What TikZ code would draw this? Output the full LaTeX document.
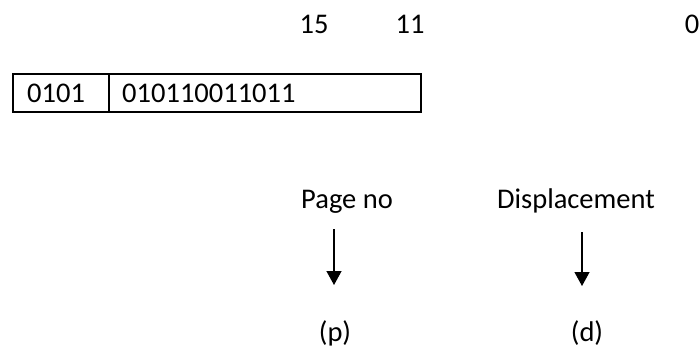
\documentclass[tikz,border=0pt]{standalone}
\usepackage{fontspec}
\setmainfont{Carlito}
\usetikzlibrary{arrows.meta}
\tikzset{
  lbl/.style={inner sep=0pt, anchor=base, font=\fontsize{28.5}{34}\selectfont},
  cell/.style={draw, line width=1.6pt, inner sep=0pt, anchor=north west},
  arr/.style={line width=1.3pt, -{Triangle[width=15pt,length=14pt]}}
}
\begin{document}
\begin{tikzpicture}[x=1pt,y=-1pt]
\useasboundingbox (0,0) rectangle (700,349);
% bit positions
\node[lbl] (b15) at (314,33) {15};
\node[lbl] (b11) at (410,33) {11};
\node[lbl, anchor=base east] (b0) at (699.5,33) {0};
% address box
\node[cell, minimum width=96pt, minimum height=38pt] (c1) at (12,73) {};
\node[cell, minimum width=312pt, minimum height=38pt] (c2) at (108,73) {};
\node[lbl, anchor=base west] (t1) at (27,102) {0101};
\node[lbl, anchor=base west] (t2) at (122,102) {010110011011};
% labels
\node[lbl] (pg) at (347,208) {Page no};
\node[lbl] (dsp) at (576,208) {Displacement};
\coordinate (a1s) at (334,229);
\coordinate (a1e) at (334,285);
\coordinate (a2s) at (582,232);
\coordinate (a2e) at (582,286);
\draw[arr] (a1s) -- (a1e);
\draw[arr] (a2s) -- (a2e);
\node[lbl] (p) at (335,341) {(p)};
\node[lbl] (d) at (587,341) {(d)};
\end{tikzpicture}
\end{document}
